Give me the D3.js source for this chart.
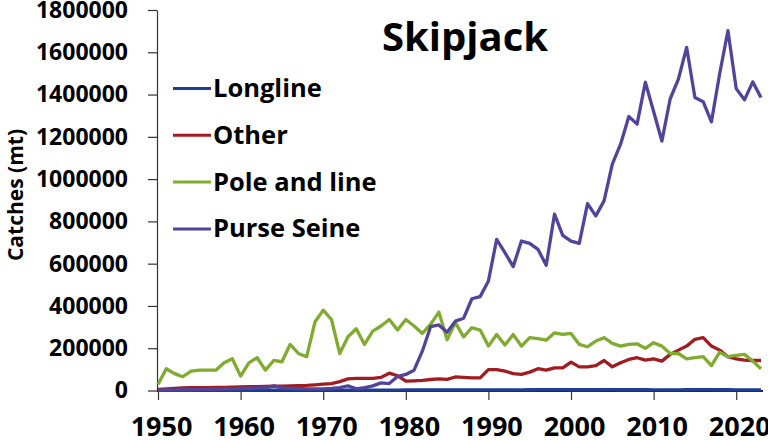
<!DOCTYPE html>
<html>
<head>
<meta charset="utf-8">
<script src="https://cdn.jsdelivr.net/npm/d3@7"></script>
<style>
  html, body { margin: 0; padding: 0; background: #fff; }
  svg { display: block; font-family: "Open Sans", "Liberation Sans", sans-serif; font-weight: bold; }
</style>
</head>
<body>
<svg id="chart" width="768" height="440"></svg>
<script>
// Skipjack catches (mt) by gear, 1950-2023
const years = d3.range(1950, 2024);

const longline = [
  1000, 1000, 1000, 1000, 1000, 1000, 1000, 1000, 1000, 1000,
  1000, 1000, 1500, 1500, 1500, 1500, 1500, 1500, 1500, 1500,
  2000, 2000, 2000, 2000, 2000, 2000, 2000, 2000, 2000, 2000,
  2500, 2500, 2500, 2500, 2500, 2500, 2500, 3000, 3000, 3000,
  3000, 3000, 3000, 3000, 3000, 3500, 4000, 4000, 4000, 4000,
  3500, 3500, 3500, 3500, 4000, 4000, 3500, 3500, 3500, 3500,
  3000, 3000, 3000, 3000, 3500, 4000, 4000, 4000, 3500, 3500,
  3000, 3000, 3000, 3000
];

const other = [
  5000, 8000, 10000, 12000, 13000, 14000, 14000, 15000, 15000, 16000,
  17000, 18000, 18000, 19000, 20000, 21000, 22000, 23000, 24000, 27000,
  30000, 33000, 42000, 55000, 57000, 57000, 57000, 62000, 82000, 70000,
  44000, 46000, 48000, 52000, 55000, 53000, 64000, 62000, 60000, 60000,
  99000, 99000, 92000, 80000, 76000, 87000, 103000, 96000, 107000, 107000,
  134000, 112000, 112000, 118000, 142000, 112000, 131000, 147000, 155000, 144000,
  150000, 139000, 171000, 191000, 210000, 242000, 250000, 210000, 191000, 160000,
  150000, 144000, 142000, 142000
];

const poleAndLine = [
  28000, 103000, 80000, 65000, 92000, 96000, 96000, 96000, 131000, 150000,
  68000, 131000, 155000, 96000, 142000, 136000, 218000, 175000, 160000, 324000,
  380000, 336000, 175000, 254000, 292000, 218000, 281000, 305000, 336000, 286000,
  336000, 305000, 270000, 313000, 371000, 240000, 321000, 254000, 297000, 286000,
  210000, 265000, 215000, 265000, 210000, 250000, 245000, 238000, 273000, 265000,
  270000, 218000, 207000, 234000, 250000, 223000, 210000, 218000, 221000, 199000,
  226000, 210000, 175000, 175000, 150000, 155000, 160000, 118000, 181000, 160000,
  166000, 171000, 139000, 103000
];

const purseSeine = [
  2000, 3000, 3000, 4000, 4000, 5000, 6000, 6000, 8000, 8000,
  10000, 10000, 12000, 12000, 22000, 12000, 10000, 10000, 8000, 8000,
  8000, 10000, 14000, 22000, 8000, 14000, 22000, 36000, 33000, 66000,
  76000, 96000, 186000, 302000, 310000, 276000, 328000, 342000, 434000, 444000,
  518000, 715000, 652000, 586000, 707000, 696000, 668000, 592000, 834000, 734000,
  707000, 696000, 884000, 826000, 897000, 1071000, 1165000, 1296000, 1260000, 1458000,
  1320000, 1180000, 1379000, 1473000, 1623000, 1386000, 1366000, 1271000, 1500000, 1702000,
  1428000, 1375000, 1460000, 1386000
];

const seriesNames = ["Longline", "Other", "Pole and line", "Purse Seine"];
const seriesValues = [longline, other, poleAndLine, purseSeine];
const seriesColors = ["#1f3d92", "#a01c20", "#7fab2e", "#52449a"];

const yTicks = [0, 200000, 400000, 600000, 800000, 1000000, 1200000, 1400000, 1600000, 1800000];
const xTicks = [1950, 1960, 1970, 1980, 1990, 2000, 2010, 2020];

const svg = d3.select("#chart");

const x = d3.scaleLinear().domain([1950, 2023]).range([158, 761]);
const y = d3.scaleLinear().domain([0, 1800000]).range([390.5, 10]);

// y axis
const yAxis = svg.append("g")
  .attr("transform", "translate(157,0)")
  .call(d3.axisLeft(y).tickValues(yTicks).tickFormat(d3.format("d")).tickSize(9).tickSizeOuter(0).tickPadding(20));
yAxis.select(".domain").attr("stroke", "#333").attr("stroke-width", 1.2);
yAxis.selectAll(".tick line").attr("stroke", "#333").attr("stroke-width", 1.2);
yAxis.selectAll("text").attr("font-size", 23).attr("fill", "#000")
  .attr("font-family", "Open Sans").attr("font-weight", "bold");

// x axis
const xAxis = svg.append("g")
  .attr("transform", "translate(0,391)")
  .call(d3.axisBottom(x).tickValues(xTicks).tickFormat(d3.format("d")).tickSize(9).tickSizeOuter(0).tickPadding(17));
xAxis.select(".domain").attr("stroke", "#222").attr("stroke-width", 2).attr("d", "M157,0H763");
xAxis.selectAll(".tick line").attr("stroke", "#333").attr("stroke-width", 1.2);
xAxis.selectAll("text").attr("font-size", 27).attr("fill", "#000").attr("dx", 3)
  .attr("font-family", "Open Sans").attr("font-weight", "bold");

// y axis title
svg.append("text")
  .attr("transform", "translate(22.5,195) rotate(-90)")
  .attr("text-anchor", "middle")
  .attr("font-size", 21)
  .attr("fill", "#000")
  .text("Catches (mt)");

// title
svg.append("text")
  .attr("x", 465)
  .attr("y", 51)
  .attr("text-anchor", "middle")
  .attr("font-size", 40)
  .attr("fill", "#000")
  .text("Skipjack");

// lines
const line = d3.line()
  .x((d, i) => x(years[i]))
  .y(d => y(d));

svg.append("g")
  .selectAll("path")
  .data(seriesValues)
  .join("path")
  .attr("d", line)
  .attr("fill", "none")
  .attr("stroke", (d, i) => seriesColors[i])
  .attr("stroke-width", 3.3)
  .attr("stroke-linejoin", "round");

// legend
const legend = svg.append("g")
  .selectAll("g")
  .data(seriesNames)
  .join("g")
  .attr("transform", (d, i) => `translate(173,${88.5 + i * 46.8})`);

legend.append("line")
  .attr("x1", 0).attr("x2", 38)
  .attr("stroke", (d, i) => seriesColors[i])
  .attr("stroke-width", 3);

legend.append("text")
  .attr("x", 40)
  .attr("y", 8.5)
  .attr("font-size", 25.5)
  .attr("fill", "#000")
  .text(d => d);
</script>
</body>
</html>
